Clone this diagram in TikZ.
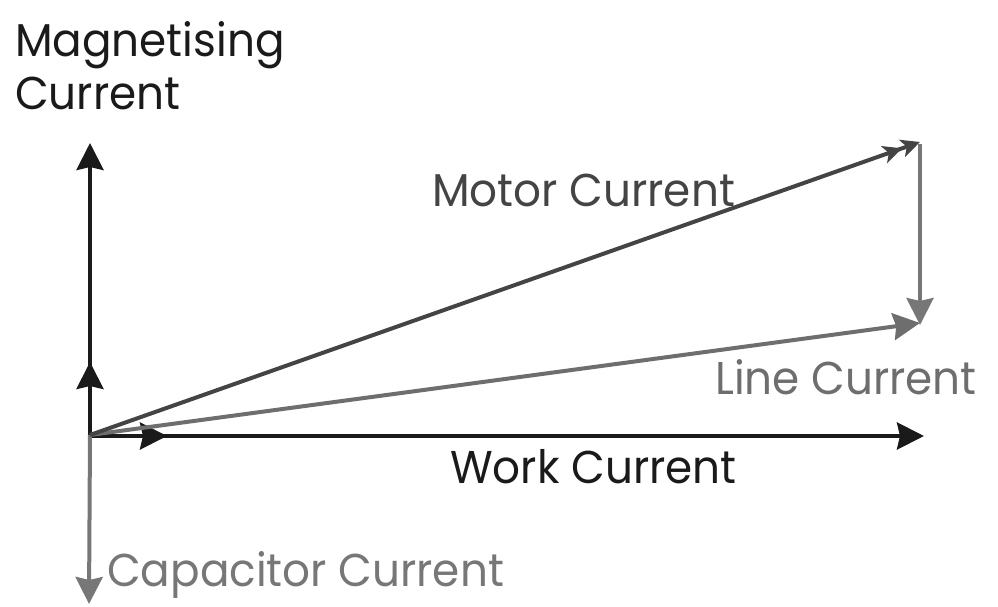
\documentclass[tikz,border=0pt]{standalone}
\usepackage{fontspec}
\setmainfont{Poppins}
\usetikzlibrary{arrows.meta}
\definecolor{ink}{HTML}{1A1A1A}
\definecolor{motorc}{HTML}{444444}
\definecolor{linec}{HTML}{6E6E6E}
\definecolor{capc}{HTML}{777777}
\newcommand{\lbltext}[1]{\scalebox{0.95}[1]{#1}}
\begin{document}
\begin{tikzpicture}[x=1pt,y=-1pt,
  vec/.style={line width=4pt,-{Stealth[length=27pt,width=27pt,inset=3pt]}},
  lbl/.style={anchor=base west,inner sep=0pt,font=\fontsize{46}{46}\selectfont},
  dblhead/.style={line width=4pt,-{Stealth[length=19pt,width=18pt,inset=5pt]Stealth[length=19pt,width=18pt,inset=5pt]}}]
\useasboundingbox (0,0) rectangle (998,607);
\coordinate (O) at (90,435);
\coordinate (mag) at (90,143);
\coordinate (mags) at (90,362);
\coordinate (work) at (924,436);
\coordinate (works) at (167,436);
\coordinate (Ow) at (90,436);
\coordinate (cap) at (89,604);
\coordinate (mot) at (920,142);
\coordinate (lin) at (920,323);
\coordinate (lintip) at (920,325);
% axes
\draw[vec,ink] (O) -- (mag);
\draw[vec,ink] (O) -- (mags);
\draw[vec,ink] (Ow) -- (work);
\draw[vec,ink] (Ow) -- (works);
\draw[vec,capc] (O) -- (cap);
\draw[vec,capc] ([yshift=-2pt]mot) -- (lintip);
\draw[vec,linec] (O) -- (lin);
\draw[dblhead,motorc] (O) -- (mot);
% labels
\node[lbl,ink] (tmag) at (15,57) {\lbltext{Magnetising}};
\node[lbl,ink] (tcur) at (15,110) {\lbltext{Current}};
\node[lbl,motorc] (tmot) at (432,206) {\lbltext{Motor Current}};
\node[lbl,linec] (tlin) at (715,394) {\lbltext{Line Current}};
\node[lbl,ink] (twork) at (450,483) {\lbltext{Work Current}};
\node[lbl,capc] (tcap) at (107,586) {\lbltext{Capacitor Current}};
\end{tikzpicture}
\end{document}
